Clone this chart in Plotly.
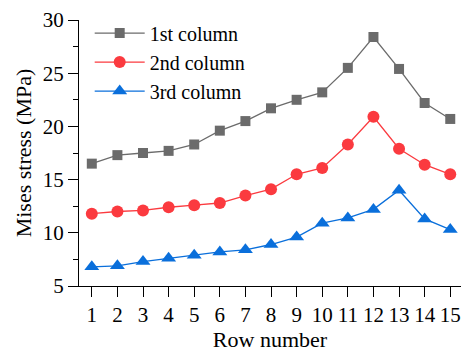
import plotly.graph_objects as go

rows = list(range(1, 16))
col1 = [16.5, 17.3, 17.5, 17.7, 18.3, 19.6, 20.5, 21.7, 22.5, 23.2, 25.5, 28.4, 25.4, 22.2, 20.7]
col2 = [11.8, 12.0, 12.1, 12.4, 12.6, 12.8, 13.5, 14.1, 15.5, 16.1, 18.3, 20.9, 17.9, 16.4, 15.5]
col3 = [6.8, 6.9, 7.3, 7.6, 7.9, 8.2, 8.4, 8.9, 9.6, 10.9, 11.4, 12.2, 14.0, 11.3, 10.3]
names = ["1st column", "2nd column", "3rd column"]
y_ticks = [5, 10, 15, 20, 25, 30]

FONT = "Liberation Serif, Times New Roman, serif"

fig = go.Figure()
styles = [
    ("#6b6b6b", "square", 10),
    ("#fb3a3f", "circle", 12),
    ("#0a6fdb", "triangle-up", 13),
]
for data, name, (c, sym, sz) in zip([col1, col2, col3], names, styles):
    fig.add_trace(go.Scatter(
        x=rows, y=data, name=name, mode="lines+markers",
        line=dict(color=c, width=1.3),
        marker=dict(symbol=sym, size=sz, color=c),
    ))

fig.update_layout(
    width=461, height=354,
    margin=dict(l=79, r=0, t=20, b=68),
    plot_bgcolor="white", paper_bgcolor="white",
    font=dict(family=FONT, size=20, color="black"),
    showlegend=True,
    legend=dict(x=0.028, y=1.024, xanchor="left", yanchor="top",
                bgcolor="rgba(0,0,0,0)", font=dict(size=20),
                itemwidth=50, tracegroupgap=0),
    xaxis=dict(
        range=[0.5, 15.42], tickmode="array", tickvals=rows,
        showline=True, linecolor="black", linewidth=1.3,
        ticks="outside", ticklen=10, tickwidth=1.3, tickcolor="black",
        showgrid=False, zeroline=False,
        title=dict(text="Row number", standoff=1, font=dict(size=22)),
        tickfont=dict(size=21),
    ),
    yaxis=dict(
        range=[5, 30], tickmode="array", tickvals=y_ticks,
        showline=True, linecolor="black", linewidth=1.3,
        ticks="outside", ticklen=10, tickwidth=1.3, tickcolor="black",
        showgrid=False, zeroline=False,
        minor=dict(dtick=2.5, ticks="outside", ticklen=5, tickwidth=1.3, tickcolor="black", showgrid=False),
        title=dict(text="Mises stress (MPa)", standoff=4, font=dict(size=22)),
        tickfont=dict(size=21),
    ),
)

fig.write_html("out.html")
